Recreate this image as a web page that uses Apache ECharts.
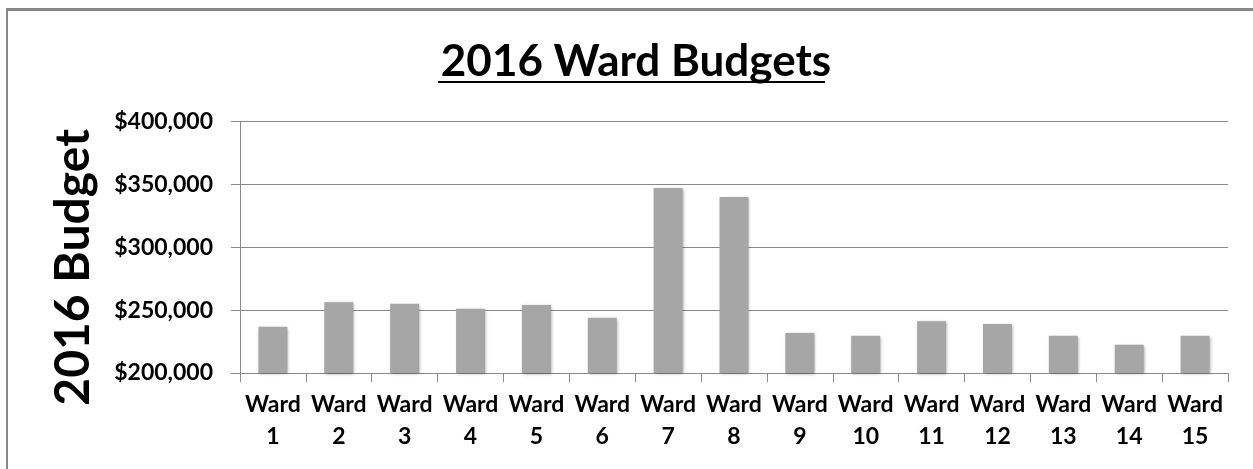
<!DOCTYPE html>
<html>
<head>
<meta charset="utf-8">
<script src="https://cdn.jsdelivr.net/npm/echarts@6/dist/echarts.min.js"></script>
<style>
  html, body { margin: 0; padding: 0; background: #fff; }
  #wrap { position: relative; width: 1253px; height: 469px; overflow: hidden; }
  #frame { position: absolute; left: 6px; top: 8px; width: 1300px; height: 500px;
           border-top: 3px solid #888; border-left: 2px solid #888; }
  #main { position: absolute; left: 0; top: 0; width: 1253px; height: 469px; }
</style>
</head>
<body>
<div id="wrap">
  <div id="frame"></div>
  <div id="main"></div>
</div>
<script>
  // ward names and 2016 budgets
  var wards = ['1', '2', '3', '4', '5', '6', '7', '8', '9', '10', '11', '12', '13', '14', '15'];
  var budgets = [236900, 256300, 255200, 251200, 254100, 244000, 347300, 340100,
                 231800, 229700, 241200, 239000, 229700, 222500, 229700];
  var yTicks = [200000, 250000, 300000, 350000, 400000];

  var font = 'Lato';
  var myChart = echarts.init(document.getElementById('main'));
  myChart.setOption({
    animation: false,
    title: {
      text: '2016 Ward Budgets',
      left: 631,
      top: 35,
      textAlign: 'center',
      textStyle: { fontFamily: font, fontWeight: 'bold', fontSize: 44, color: '#000' }
    },
    graphic: [{
      type: 'line',
      shape: { x1: 438, y1: 82, x2: 825, y2: 82 },
      style: { stroke: '#000', lineWidth: 2 }
    }],
    grid: { left: 240, right: 25, top: 121.7, bottom: 96 },
    xAxis: {
      type: 'category',
      data: wards,
      axisLine: { lineStyle: { color: '#8a8a8a', width: 1 } },
      axisTick: { show: true, length: 9, lineStyle: { color: '#8a8a8a' } },
      axisLabel: {
        interval: 0,
        margin: 16,
        fontFamily: font,
        fontWeight: 'bold',
        fontSize: 23,
        lineHeight: 32,
        color: '#000',
        formatter: function (v) { return 'Ward\n' + v; }
      }
    },
    yAxis: {
      type: 'value',
      min: yTicks[0],
      max: yTicks[yTicks.length - 1],
      interval: 50000,
      name: '2016 Budget',
      nameLocation: 'middle',
      nameGap: 142,
      nameRotate: 90,
      nameTextStyle: {
        fontFamily: font, fontWeight: 'bold', fontSize: 48, color: '#000',
        padding: [0, 40, 0, 0]
      },
      axisLine: { show: true, lineStyle: { color: '#8a8a8a', width: 1 } },
      axisTick: { show: true, length: 9, lineStyle: { color: '#8a8a8a' } },
      axisLabel: {
        margin: 27,
        fontFamily: font,
        fontWeight: 'bold',
        fontSize: 23,
        color: '#000',
        formatter: function (v) { return '$' + v.toLocaleString('en-US'); }
      },
      splitLine: { show: true, lineStyle: { color: '#8a8a8a', width: 1 } }
    },
    series: [{
      type: 'bar',
      data: budgets,
      barWidth: '44%',
      itemStyle: {
        color: '#a6a6a6',
        shadowBlur: 3,
        shadowColor: 'rgba(0,0,0,0.35)',
        shadowOffsetX: 1,
        shadowOffsetY: 1
      }
    }]
  });
</script>
</body>
</html>
